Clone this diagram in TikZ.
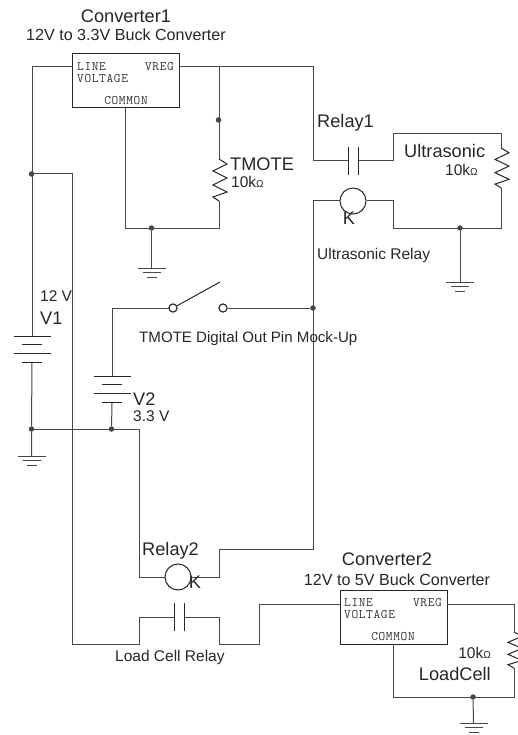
\documentclass[tikz,border=0pt]{standalone}
\usepackage{fontspec}
\setmainfont{Liberation Sans}
\setmonofont[LetterSpace=5]{Latin Modern Mono}
\tikzset{
wire/.style={line width=1pt,black!72},
blockbox/.style={draw=black!85,line width=1pt,minimum width=107pt,minimum height=54pt,inner sep=0pt},
coil/.style={circle,draw=black!85,line width=1pt,minimum size=26pt,inner sep=0pt},
contact/.style={circle,draw=black!85,fill=white,line width=1pt,minimum size=8pt,inner sep=0pt},
dot/.style={circle,fill=black!72,minimum size=5.5pt,inner sep=0pt},
biglabel/.style={inner sep=0pt,text=black!85,font=\fontsize{18.2}{18.2}\selectfont},
smalllabel/.style={inner sep=0pt,text=black!85,font=\fontsize{15.5}{15.5}\selectfont},
titlelabel/.style={inner sep=0pt,text=black!85,font=\fontsize{16.1}{16.1}\selectfont},
pinlabel/.style={inner sep=0pt,text=black!80,font=\ttfamily\fontsize{13}{13}\selectfont},
gnd/.pic={
\draw[wire] (-14,0) -- (14,0);
\draw[wire] (-9,4.5) -- (9,4.5);
\draw[wire] (-5,9) -- (5,9);
},
cell/.pic={
\draw[wire,black!85] (-18.5,0) -- (18.5,0);
\draw[wire,black!85] (-10,8.5) -- (10,8.5);
\draw[wire,black!85] (-18.5,17.5) -- (18.5,17.5);
\draw[wire,black!85] (-10,26.5) -- (10,26.5);
},
plates/.pic={
\draw[wire,black!85] (-5,-14) -- (-5,14);
\draw[wire,black!85] (5,-14) -- (5,14);
},
zigzag/.pic={
\draw[wire,black!85] (0,0) -- (8,5) -- (-6,12) -- (8,19) -- (-6,26) -- (8,33) -- (-6,38) -- (0,42);
},
}
\newcommand{\kohm}{10k{\fontsize{10}{10}\selectfont Ω}}
\begin{document}
\begin{tikzpicture}[x=1pt,y=-1pt]
\useasboundingbox (0,0) rectangle (518,735);
\node[blockbox] (conv1) at (125.5,81) {};
\node[blockbox] (conv2) at (393.5,617) {};
\node[coil] (coil1) at (353,201) {};
\node[coil] (coil2) at (178,577) {};
\node[contact] (swleft) at (173,308) {};
\node[contact] (swright) at (223,308) {};
\node[dot] (j1) at (218.5,120) {};
\node[dot] (j2) at (151.5,228) {};
\node[dot] (j3) at (31.5,174) {};
\node[dot] (j4) at (31.5,429) {};
\node[dot] (j5) at (111.5,429) {};
\node[dot] (j6) at (313,308) {};
\node[dot] (j7) at (460,228) {};
\node[dot] (j8) at (473,697) {};
\coordinate (c1in) at (72,67);
\coordinate (c1out) at (179,67);
\coordinate (c1com) at (125.5,108);
\coordinate (c2in) at (340,604);
\coordinate (c2out) at (447,604);
\coordinate (c2com) at (393.5,644);
\coordinate (res1top) at (219,159);
\coordinate (res1bot) at (219,201);
\coordinate (res2top) at (501,148);
\coordinate (res2bot) at (501,188);
\coordinate (res3top) at (514,632);
\coordinate (res3bot) at (514,668);
\coordinate (v1top) at (32,336);
\coordinate (v1bot) at (32,362);
\coordinate (v2top) at (112,376);
\coordinate (v2bot) at (112,403);
\coordinate (cap1l) at (348.5,161);
\coordinate (cap1r) at (358.5,161);
\coordinate (cap2l) at (174,617);
\coordinate (cap2r) at (184,617);
\coordinate (g1) at (151.5,268);
\coordinate (g2) at (31.5,456);
\coordinate (g3) at (460,282);
\coordinate (g4) at (473.5,723);
\coordinate (swtip) at (220,282);
\draw[wire] (c1in) -| (v1top);
\draw[wire] (v1bot) -- (j4) -- (g2);
\draw[wire] (j3) -| (72,644) -| (139,617) -- (cap2l);
\draw[wire] (cap2r) -| (219,644) -| (259,604) -- (c2in);
\draw[wire] (c1out) -| (res1top);
\draw[wire] (j1 |- c1out) -| (313,161) -- (cap1l);
\draw[wire] (res1bot) |- (c1com |- j2) -- (c1com);
\draw[wire] (j2) -- (g1);
\draw[wire] (cap1r) -| (393,134) -| (res2top);
\draw[wire] (res2bot) |- (393,228) |- (coil1.east);
\draw[wire] (j7) -- (g3);
\draw[wire] (coil1.west) -| (313,549) -| (219,577) -- (coil2.east);
\draw[wire] (coil2.west) -| (139,429) -- (j4);
\draw[wire] (j6) -- (swright);
\draw[wire] (swleft) -| (v2top);
\draw[wire] (v2bot) -- (j5);
\draw[wire,black!85] (swleft) -- (swtip);
\draw[wire] (c2out) -| (res3top);
\draw[wire] (res3bot) |- (c2com |- j8) -- (c2com);
\draw[wire] (j8) -- (g4);
\pic at (g1) {gnd};
\pic at (g2) {gnd};
\pic at (g3) {gnd};
\pic at (g4) {gnd};
\pic at (v1top) {cell};
\pic at (v2top) {cell};
\pic at (353.5,161.5) {plates};
\pic at (179,617) {plates};
\pic at (res1top) {zigzag};
\pic[yscale=.95] at (res2top) {zigzag};
\pic[yscale=.86] at (res3top) {zigzag};
\node[contact] at (swleft) {};
\node[contact] at (swright) {};
\node[biglabel] (conv1name) at (126,16) {Converter1};
\node[titlelabel] (conv1text) at (126,35) {12V to 3.3V Buck Converter};
\node[pinlabel,anchor=west] (c1line) at (77,67) {LINE};
\node[pinlabel,anchor=west] (c1volt) at (77,79) {VOLTAGE};
\node[pinlabel,anchor=east] (c1reg) at (174,67) {VREG};
\node[pinlabel] (c1common) at (126,101) {COMMON};
\node[biglabel,anchor=west] (tmote) at (230,164) {TMOTE};
\node[smalllabel,anchor=west] (tmoteval) at (231,182) {\kohm};
\node[biglabel,anchor=west] (relay1) at (317,123) {Relay1};
\node[biglabel,anchor=west] (ultra) at (404,151) {Ultrasonic};
\node[smalllabel,anchor=west] (ultraval) at (445,170) {\kohm};
\node[biglabel] (k1) at (349,218) {K};
\node[smalllabel,anchor=west] (ultrarelay) at (317,255) {Ultrasonic Relay};
\node[smalllabel,anchor=west] (v1val) at (40,296) {12 V};
\node[biglabel,anchor=west] (v1) at (40,318) {V1};
\node[smalllabel,anchor=west,font=\fontsize{15.1}{15.1}\selectfont] (pin) at (139,339) {TMOTE Digital Out Pin Mock-Up};
\node[biglabel,anchor=west] (v2) at (133,399) {V2};
\node[smalllabel,anchor=west] (v2val) at (133,416) {3.3 V};
\node[biglabel,anchor=west] (relay2) at (142,551) {Relay2};
\node[biglabel] (k2) at (195,582) {K};
\node[smalllabel,anchor=west] (loadrelay) at (115,657) {Load Cell Relay};
\node[biglabel] (conv2name) at (387,559) {Converter2};
\node[titlelabel] (conv2text) at (397,580) {12V to 5V Buck Converter};
\node[pinlabel,anchor=west] (c2line) at (344,603) {LINE};
\node[pinlabel,anchor=west] (c2volt) at (344,615) {VOLTAGE};
\node[pinlabel,anchor=east] (c2reg) at (442,603) {VREG};
\node[pinlabel] (c2common) at (393,637) {COMMON};
\node[smalllabel,anchor=east] (loadval) at (491,653) {\kohm};
\node[biglabel,anchor=east] (load) at (491,674) {LoadCell};
\end{tikzpicture}
\end{document}
